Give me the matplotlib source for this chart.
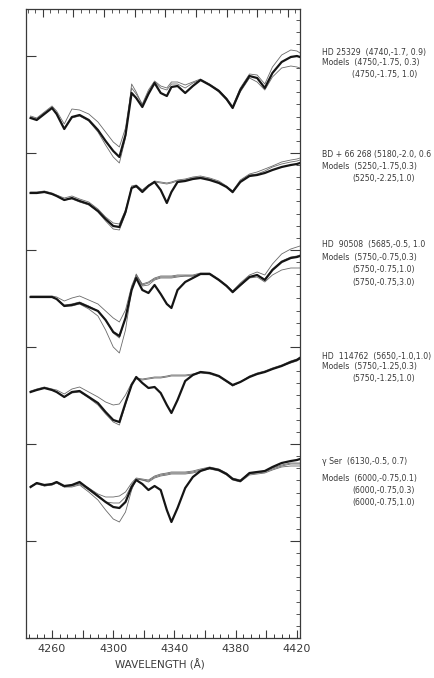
import matplotlib
matplotlib.use('Agg')
import matplotlib.pyplot as plt
from matplotlib.ticker import MultipleLocator, FuncFormatter

# wavelength grid (Angstrom) shared by every spectrum
wave = [4246, 4250, 4255, 4260, 4263, 4268, 4273, 4278, 4284, 4290, 4295,
        4300, 4304, 4308, 4312, 4315, 4319, 4323, 4327, 4331, 4335, 4338,
        4342, 4347, 4352, 4357, 4363, 4369, 4374, 4378, 4383, 4389, 4394,
        4399, 4404, 4410, 4416, 4420, 4422]

# vertical shift of each star (arbitrary units)
offsets = [518, 443, 338, 248, 153]

# HD 25329
hd25329_obs = [2, 0, 6, 12, 6, -9, 3, 5, 0, -10, -21, -31, -37, -15, 27, 22, 13, 26, 37, 27,
               24, 33, 34, 27, 34, 40, 35, 29, 21, 12, 30, 44, 42, 32, 47, 58, 63, 64, 63]
hd25329_m1 = [3, 1, 7, 12, 7, -8, 2, 4, -1, -12, -25, -37, -43, -18, 36, 28, 15, 28, 38, 32,
              30, 36, 36, 32, 37, 40, 35, 28, 20, 12, 28, 42, 38, 30, 43, 52, 54, 53, 52]
hd25329_m2 = [4, 2, 8, 14, 9, -4, 11, 10, 6, -2, -12, -22, -27, -8, 32, 26, 16, 30, 39, 34,
              32, 38, 38, 35, 38, 41, 36, 30, 22, 14, 32, 46, 45, 36, 53, 65, 70, 69, 67]

# BD +66 268
bd66_obs = [2, 2, 3, 1, -1, -5, -3, -6, -9, -16, -24, -31, -32, -17, 7, 9, 3, 9, 13, 5,
            -8, 3, 13, 14, 16, 17, 15, 12, 8, 3, 13, 19, 20, 22, 25, 28, 30, 31, 32]
bd66_m1 = [2, 2, 3, 1, -1, -5, -4, -7, -10, -17, -26, -34, -35, -19, 9, 10, 5, 10, 13, 12,
           11, 12, 14, 15, 17, 18, 16, 13, 8, 2, 14, 20, 21, 24, 28, 31, 33, 34, 35]
bd66_m2 = [3, 3, 4, 2, 0, -3, -1, -4, -7, -14, -22, -28, -29, -15, 7, 8, 5, 10, 14, 13,
           12, 13, 15, 16, 18, 19, 17, 14, 9, 4, 15, 21, 23, 26, 29, 33, 35, 36, 37]

# HD 90508
hd90508_obs = [3, 3, 3, 3, 1, -6, -5, -3, -7, -11, -20, -32, -36, -18, 10, 22, 10, 7, 15, 6,
               -4, -8, 10, 18, 22, 26, 26, 20, 14, 8, 15, 23, 25, 20, 30, 38, 42, 43, 44]
hd90508_m1 = [3, 3, 3, 3, 1, -6, -6, -4, -9, -16, -30, -47, -53, -30, 10, 26, 15, 17, 21, 23,
              23, 23, 24, 24, 24, 26, 26, 20, 14, 7, 14, 22, 23, 18, 25, 30, 32, 32, 32]
hd90508_m2 = [4, 4, 4, 4, 3, -1, 2, 4, 0, -4, -11, -18, -22, -10, 14, 25, 16, 18, 22, 24,
              24, 24, 25, 25, 25, 27, 27, 21, 15, 9, 17, 25, 28, 25, 36, 46, 51, 53, 54]
hd90508_m3 = [3, 3, 3, 3, 1, -5, -4, -2, -6, -11, -20, -33, -38, -18, 12, 24, 14, 15, 20, 22,
              22, 22, 23, 24, 24, 26, 26, 20, 14, 8, 15, 23, 25, 21, 31, 39, 43, 44, 45]

# HD 114762
hd114762_obs = [-2, 0, 2, 0, -2, -7, -2, -1, -7, -13, -22, -30, -32, -13, 5, 13, 7, 2, 3, -3,
                -15, -23, -10, 9, 15, 18, 17, 14, 9, 5, 8, 13, 16, 18, 21, 24, 28, 30, 32]
hd114762_m1 = [-2, 0, 2, 0, -2, -7, -3, -2, -8, -15, -24, -32, -35, -15, 5, 12, 11, 12, 13, 13,
               14, 15, 15, 15, 16, 18, 17, 14, 9, 4, 8, 14, 17, 19, 22, 25, 29, 31, 33]
hd114762_m2 = [-1, 1, 3, 1, 0, -4, 1, 3, -2, -7, -12, -15, -14, -5, 7, 11, 10, 11, 12, 12,
               13, 14, 14, 14, 15, 17, 16, 13, 8, 4, 8, 13, 16, 18, 21, 24, 27, 29, 31]

# gamma Ser
gser_obs = [-2, 2, 0, 1, 3, -1, 0, 3, -4, -11, -17, -22, -23, -17, -2, 5, 1, -5, -1, -5,
            -25, -37, -23, -3, 8, 14, 17, 15, 11, 6, 4, 12, 13, 14, 18, 22, 24, 25, 26]
gser_m1 = [-2, 2, -1, 0, 2, -2, -2, 0, -7, -15, -25, -34, -37, -27, -5, 6, 5, 3, 7, 9,
           10, 11, 11, 11, 12, 14, 16, 14, 10, 5, 3, 10, 11, 12, 15, 18, 19, 19, 19]
gser_m2 = [-2, 1, -1, 0, 2, -2, -1, 1, -5, -12, -17, -18, -18, -12, 0, 6, 5, 4, 8, 10,
           11, 12, 12, 12, 13, 15, 17, 15, 11, 6, 4, 11, 12, 13, 16, 19, 21, 21, 21]
gser_m3 = [-1, 2, 0, 1, 3, -1, 0, 2, -3, -9, -12, -12, -11, -7, 2, 7, 6, 5, 9, 11,
           12, 13, 13, 13, 14, 16, 18, 16, 12, 7, 5, 12, 13, 14, 17, 20, 22, 22, 22]

observed = [hd25329_obs, bd66_obs, hd90508_obs, hd114762_obs, gser_obs]
models = [[hd25329_m1, hd25329_m2],
          [bd66_m1, bd66_m2],
          [hd90508_m1, hd90508_m2, hd90508_m3],
          [hd114762_m1, hd114762_m2],
          [gser_m1, gser_m2, gser_m3]]

labels = [["HD 25329  (4740,-1.7, 0.9)", "Models  (4750,-1.75, 0.3)", "(4750,-1.75, 1.0)"],
          ["BD + 66 268 (5180,-2.0, 0.6", "Models  (5250,-1.75,0.3)", "(5250,-2.25,1.0)"],
          ["HD  90508  (5685,-0.5, 1.0", "Models  (5750,-0.75,0.3)", "(5750,-0.75,1.0)",
           "(5750,-0.75,3.0)"],
          ["HD  114762  (5650,-1.0,1.0)", "Models  (5750,-1.25,0.3)", "(5750,-1.25,1.0)"],
          ["\u03b3 Ser  (6130,-0.5, 0.7)", "Models  (6000,-0.75,0.1)", "(6000,-0.75,0.3)",
           "(6000,-0.75,1.0)"]]
label_rows = [[52, 63, 75], [154, 166, 179], [245, 258, 270, 282],
              [356, 367, 378], [462, 479, 491, 503]]

W, H = 435, 678
fig = plt.figure(figsize=(W / 100, H / 100), dpi=100)
ax = fig.add_axes([26 / W, 40 / H, 274 / W, 629 / H])

for off, obs, mods in zip(offsets, observed, models):
    for m in mods:
        ax.plot(wave, [off + v for v in m], color='#6a6a6a', lw=0.6)
    ax.plot(wave, [off + v for v in obs], color='#151515', lw=1.6)

ax.set_xlim(4243, 4422)
ax.set_ylim(0, 629)

ink = '#3a3a3a'
for s in ax.spines.values():
    s.set_color(ink)
    s.set_linewidth(0.9)

# bottom axis
ax.xaxis.set_major_locator(MultipleLocator(20))
ax.xaxis.set_minor_locator(MultipleLocator(5))
ax.xaxis.set_major_formatter(FuncFormatter(lambda v, p: '%d' % v if int(round(v)) % 40 == 20 else ''))
ax.tick_params(axis='x', which='major', direction='in', length=6, width=0.8, color=ink,
               labelsize=8, labelcolor=ink, pad=4)
ax.tick_params(axis='x', which='minor', direction='in', length=3, width=0.7, color=ink)

# left axis: long ticks only, right axis: fine ticks
ax.yaxis.set_major_locator(MultipleLocator(97))
ax.yaxis.set_minor_locator(MultipleLocator(97 / 8))
ax.tick_params(axis='y', which='major', direction='in', length=7, width=0.8, color=ink,
               labelleft=False, right=True)
ax.tick_params(axis='y', which='minor', direction='in', length=3, width=0.6, color=ink,
               left=False, right=True)

# top axis of the chart paper
top = ax.twiny()
top.set_xlim(ax.get_xlim())
top.xaxis.set_major_locator(MultipleLocator(20, offset=14))
top.xaxis.set_minor_locator(MultipleLocator(5, offset=4))
top.tick_params(axis='x', which='major', direction='in', length=6, width=0.8, color=ink,
                labeltop=False)
top.tick_params(axis='x', which='minor', direction='in', length=3, width=0.6, color=ink)
for s in top.spines.values():
    s.set_visible(False)

fig.text(160 / W, 1 - 665 / H, 'WAVELENGTH (\u00c5)', ha='center', va='center',
         fontsize=7.5, color=ink)

for lines, rows in zip(labels, label_rows):
    for i, (txt, yy) in enumerate(zip(lines, rows)):
        xx = 322 if i < 2 else 352
        fig.text(xx / W, 1 - yy / H, txt, ha='left', va='center', fontsize=5.6, color=ink)

plt.savefig('out.png', dpi=100)
